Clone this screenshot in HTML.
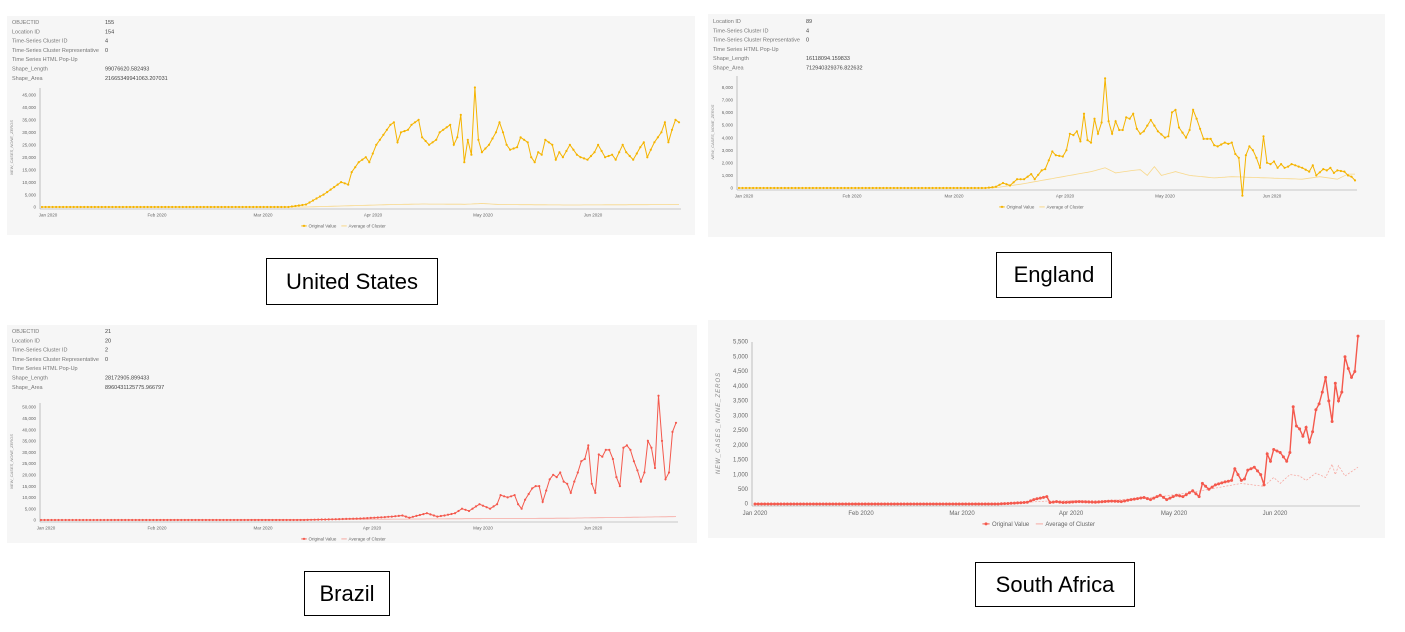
<!DOCTYPE html>
<html><head><meta charset="utf-8"><style>
body{margin:0;width:1405px;height:632px;background:#fff;overflow:hidden;position:relative;font-family:"Liberation Sans",sans-serif}
.lab{position:absolute;border:1px solid #000;background:#fff;font-size:22px;display:flex;align-items:center;justify-content:center;box-sizing:border-box}
svg{position:absolute;left:0;top:0}
</style></head><body>
<svg id="s" width="1405" height="632" xmlns="http://www.w3.org/2000/svg" font-family="Liberation Sans, sans-serif"></svg>
<div class="lab" style="left:266px;top:258px;width:172px;height:47px">United States</div>
<div class="lab" style="left:996px;top:252px;width:116px;height:46px">England</div>
<div class="lab" style="left:304px;top:571px;width:86px;height:45px">Brazil</div>
<div class="lab" style="left:975px;top:562px;width:160px;height:45px">South Africa</div>
<script>
const S=document.getElementById('s');let h='';
function interp(k,d){if(d<=k[0][0])return k[0][1];for(let i=1;i<k.length;i++){if(d<=k[i][0]){const a=k[i-1],b=k[i];return a[1]+(b[1]-a[1])*(d-a[0])/(b[0]-a[0]);}}return k[k.length-1][1];}
function panel(o){
 h+=`<rect x="${o.px}" y="${o.py}" width="${o.pw}" height="${o.ph}" fill="#f6f6f6"/>`;
 if(o.info){o.info.forEach((r,i)=>{const y=o.iy+i*9.3;h+=`<text x="${o.px+5}" y="${y}" font-size="5.5" fill="#777">${r[0]}</text><text x="${o.px+98}" y="${y}" font-size="5.5" fill="#444">${r[1]}</text>`;});}
 const X=d=>o.x0+d*(o.x1-o.x0)/o.dmax, Y=v=>o.y0-v*o.ys;
 h+=`<line x1="${o.ax}" y1="${o.ytop}" x2="${o.ax}" y2="${o.y0+2}" stroke="#999" stroke-width="0.6"/><line x1="${o.ax}" y1="${o.y0+2}" x2="${o.x1+2}" y2="${o.y0+2}" stroke="#999" stroke-width="0.6"/>`;
 o.ticks.forEach(t=>h+=`<text x="${o.ax-4}" y="${Y(t)+1.7}" font-size="${o.fs}" fill="#666" text-anchor="end">${t===0?'0':(t*o.tm).toLocaleString('en-US')}</text>`);
 ['Jan 2020','Feb 2020','Mar 2020','Apr 2020','May 2020','Jun 2020'].forEach((m,i)=>h+=`<text x="${o.mx[i]}" y="${o.y0+o.fs+5}" font-size="${o.fs}" fill="#666" text-anchor="middle">${m}</text>`);
 h+=`<text transform="translate(${o.px+(o.big?12:6)},${(o.ytop+o.y0)/2}) rotate(-90)" font-size="${o.big?6:4}" fill="#888" font-style="italic" text-anchor="middle" letter-spacing="${o.big?1:0}">NEW_CASES_NONE_ZEROS</text>`;
 let pa=[],pv=[];for(let d=0;d<=o.dmax;d++){pa.push(X(d).toFixed(1)+','+Y(interp(o.avg,d)).toFixed(1));pv.push([X(d),Y(interp(o.val,d))]);}
 h+=`<polyline points="${pa.join(' ')}" fill="none" stroke="${o.c2}" stroke-width="0.8" ${o.dash?'stroke-dasharray="2,1.5"':''}/>`;
 h+=`<polyline points="${pv.map(p=>p[0].toFixed(1)+','+p[1].toFixed(1)).join(' ')}" fill="none" stroke="${o.c}" stroke-width="${o.big?1.4:1}"/>`;
 pv.forEach(p=>h+=`<circle cx="${p[0].toFixed(1)}" cy="${p[1].toFixed(1)}" r="${o.big?1.5:1.1}" fill="${o.c}"/>`);
 const lx=o.lx,ly=o.y0+o.fs+16,f=o.fs,w=f*7.3;
 h+=`<circle cx="${lx-f*4}" cy="${ly-f*0.35}" r="${f*0.25}" fill="${o.c}"/><line x1="${lx-f*4.6}" y1="${ly-f*0.35}" x2="${lx-f*3.4}" y2="${ly-f*0.35}" stroke="${o.c}"/><text x="${lx-f*3}" y="${ly}" font-size="${f}" fill="#666">Original Value</text><line x1="${lx-f*3+w}" y1="${ly-f*0.35}" x2="${lx-f*1.8+w}" y2="${ly-f*0.35}" stroke="${o.c2}"/><text x="${lx-f*1.4+w}" y="${ly}" font-size="${f}" fill="#666">Average of Cluster</text>`;
}
const usV=[[0,0],[70,0],[75,1],[80,5],[85,10],[87,9],[88,14],[90,18],[92,20],[93,18],[95,25],[97,29],[99,33],[100,34],[101,26],[102,30],[104,31],[105,33],[106,34],[107,35],[108,28],[110,25],[112,27],[113,30],[114,31],[116,33],[117,25],[118,28],[119,37],[120,18],[121,27],[122,21],[123,48],[124,27],[125,22],[127,25],[129,30],[130,34],[131,30],[132,25],[133,23],[135,24],[136,28],[138,26],[139,20],[140,18],[141,22],[142,21],[143,27],[145,25],[146,19],[147,22],[148,20],[150,25],[152,21],[153,20],[155,19],[157,22],[158,25],[160,20],[162,21],[163,19],[165,25],[166,22],[168,19],[170,24],[171,26],[172,20],[174,26],[176,30],[177,34],[178,26],[179,31],[180,35],[181,34]];
panel({px:7,py:16,pw:688,ph:219,iy:24,info:[['OBJECTID','155'],['Location ID','154'],['Time-Series Cluster ID','4'],['Time-Series Cluster Representative','0'],['Time Series HTML Pop-Up',''],['Shape_Length','99076620.582493'],['Shape_Area','21665349941063.207031']],
 x0:42,x1:679,dmax:181,y0:207,ys:2.49,ax:40,ytop:88,fs:4.5,tm:1000,ticks:[0,5,10,15,20,25,30,35,40,45],mx:[48,157,263,373,483,593],lx:322,c:'#f5b400',c2:'#f8d88a',
 val:usV,avg:[[0,0],[75,0],[90,0.6],[100,1],[108,1.2],[120,1.1],[125,1.4],[130,1],[150,0.8],[181,1]]});
panel({px:708,py:14,pw:677,ph:223,iy:23,info:[['Location ID','89'],['Time-Series Cluster ID','4'],['Time-Series Cluster Representative','0'],['Time Series HTML Pop-Up',''],['Shape_Length','16118094.159833'],['Shape_Area','712940329376.822632']],
 x0:739,x1:1355,dmax:175,y0:188,ys:0.0126,ax:737,ytop:76,fs:4.5,tm:1,ticks:[0,1000,2000,3000,4000,5000,6000,7000,8000],mx:[744,852,954,1065,1165,1272],lx:1020,c:'#f5b400',c2:'#f8d88a',
 val:[[0,0],[70,0],[73,100],[75,400],[77,200],[79,700],[81,700],[83,1100],[84,700],[86,1400],[87,1500],[88,2200],[89,2900],[90,2600],[92,2500],[93,3000],[94,4300],[95,4200],[96,4500],[97,3700],[98,5900],[99,3800],[100,3600],[101,5500],[102,4300],[103,5200],[104,8700],[105,5300],[106,4300],[107,5300],[108,4600],[109,4600],[110,5600],[111,5500],[112,5900],[113,4700],[114,4300],[115,4500],[117,5400],[119,4500],[121,4000],[122,4100],[123,6000],[124,6200],[125,4800],[127,4000],[128,4600],[129,6200],[130,5500],[131,4700],[132,3900],[134,3900],[135,3400],[136,3300],[138,3600],[139,3500],[140,3600],[141,2700],[142,2400],[143,-600],[144,2600],[145,3300],[146,3000],[147,2400],[148,1600],[149,4100],[150,2000],[151,1900],[152,2100],[153,1600],[154,1900],[155,1600],[156,1700],[157,1900],[160,1600],[162,1300],[163,1800],[164,1000],[166,1500],[167,1400],[168,1600],[169,1200],[170,1400],[172,1300],[173,1000],[174,900],[175,600]],
 avg:[[0,0],[72,0],[80,300],[88,700],[92,900],[100,1300],[104,1600],[107,1200],[112,1400],[114,1450],[116,1000],[118,1700],[120,1000],[124,1300],[128,1000],[135,800],[140,900],[150,800],[160,700],[165,900],[170,700],[173,1100],[175,1100]]});
panel({px:7,py:325,pw:690,ph:218,iy:333,info:[['OBJECTID','21'],['Location ID','20'],['Time-Series Cluster ID','2'],['Time-Series Cluster Representative','0'],['Time Series HTML Pop-Up',''],['Shape_Length','28172905.899433'],['Shape_Area','8960431125775.966797']],
 x0:41,x1:676,dmax:181,y0:520,ys:2.26,ax:40,ytop:403,fs:4.5,tm:1000,ticks:[0,5,10,15,20,25,30,35,40,45,50],mx:[46,157,263,372,483,593],lx:322,c:'#f4594d',c2:'#f7a9a2',
 val:[[0,0],[75,0],[90,0.6],[95,1],[100,1.5],[103,2],[105,1],[110,3],[113,1.5],[115,2],[118,3],[120,5],[122,4],[125,7],[128,5],[130,7],[131,11],[133,10],[135,11],[136,7],[137,5],[138,9],[140,14],[141,15],[142,15],[143,8],[144,13],[145,18],[146,20],[147,19],[148,21],[149,17],[150,16],[151,12],[152,17],[153,21],[154,26],[155,27],[156,33],[157,16],[158,12],[159,29],[160,28],[161,31],[162,31],[163,27],[164,19],[165,15],[166,32],[167,33],[168,31],[169,26],[170,22],[171,17],[172,21],[173,35],[174,32],[175,23],[176,55],[177,35],[178,18],[179,21],[180,39],[181,43]],
 avg:[[0,0],[90,0.3],[150,0.8],[181,1.5]]});
panel({px:708,py:320,pw:677,ph:218,info:null,
 x0:755,x1:1358,dmax:186,y0:504,ys:0.02945,ax:752,ytop:342,fs:6,tm:1,big:1,ticks:[0,500,1000,1500,2000,2500,3000,3500,4000,4500,5000,5500],mx:[755,861,962,1071,1174,1275],lx:1010,c:'#f4594d',c2:'#f7a9a2',dash:1,
 val:[[0,0],[75,0],[80,30],[84,60],[86,150],[88,200],[90,250],[91,50],[93,80],[95,50],[100,80],[105,60],[110,100],[113,80],[116,150],[120,220],[122,150],[125,300],[127,150],[130,300],[132,250],[135,450],[137,250],[138,700],[140,500],[142,650],[145,750],[147,800],[148,1200],[150,800],[151,850],[152,1150],[154,1250],[156,1000],[157,650],[158,1700],[159,1450],[160,1850],[162,1750],[164,1450],[165,1750],[166,3300],[167,2650],[168,2550],[169,2300],[170,2600],[171,2100],[172,2450],[173,3200],[174,3400],[175,3800],[176,4300],[177,3500],[178,2800],[179,4100],[180,3500],[181,3800],[182,5000],[183,4600],[184,4300],[185,4500],[186,5700]],
 avg:[[0,0],[75,0],[90,100],[110,120],[125,250],[135,400],[140,500],[145,600],[150,700],[157,600],[160,900],[162,700],[165,1000],[168,950],[170,800],[173,1050],[176,900],[178,1350],[179,1000],[180,1300],[182,950],[186,1250]]});
S.innerHTML=h;
</script>
</body></html>
